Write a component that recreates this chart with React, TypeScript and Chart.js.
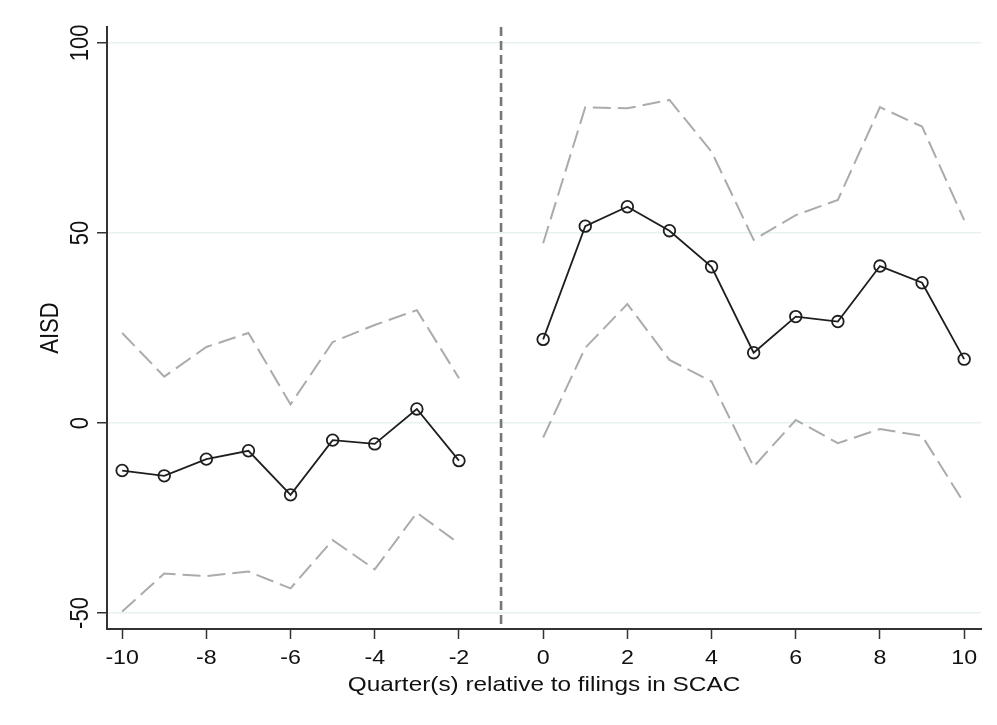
import React, { useEffect, useRef } from "react";
import { Chart, registerables } from "chart.js";

Chart.register(...registerables);

const quarters = [-10, -9, -8, -7, -6, -5, -4, -3, -2, 0, 1, 2, 3, 4, 5, 6, 7, 8, 9, 10];
const estimate = [-12.5, -13.9, -9.5, -7.3, -18.9, -4.5, -5.5, 3.7, -9.9, 22.0, 51.8, 56.9, 50.6, 41.1, 18.5, 28.0, 26.7, 41.3, 36.9, 16.8];
const upperCI = [23.7, 12.2, 20.0, 23.7, 4.9, 21.3, 25.8, 29.7, 11.8, 47.3, 83.1, 82.8, 85.0, 71.4, 48.2, 54.7, 58.7, 83.1, 78.0, 53.4];
const lowerCI = [-49.6, -39.6, -40.3, -39.1, -43.5, -30.8, -38.5, -23.6, -31.7, -3.8, 19.8, 31.3, 16.6, 10.9, -11.5, 0.8, -5.3, -1.6, -3.4, -21.1];
const xTicks = [-10, -8, -6, -4, -2, 0, 2, 4, 6, 8, 10];
const yTicks = [-50, 0, 50, 100];
const eventQuarter = -1;
const xTitle = "Quarter(s) relative to filings in SCAC";
const yTitle = "AISD";

const FONT = "'Liberation Sans', Arial, Helvetica, sans-serif";
const SX = 1.16; // horizontal stretch of the reference text

function toPoints(vals: number[]) {
  const pts: any[] = [];
  quarters.forEach((q, i) => {
    if (q === 0) pts.push({ x: eventQuarter, y: null });
    pts.push({ x: q, y: vals[i] });
  });
  return pts;
}

const overlayPlugin = {
  id: "overlay",
  beforeDatasetsDraw(chart: any) {
    const { ctx, chartArea, scales } = chart;
    const x = scales.x.getPixelForValue(eventQuarter);
    ctx.save();
    ctx.strokeStyle = "#777777";
    ctx.lineWidth = 2.6;
    ctx.setLineDash([9, 5]);
    ctx.beginPath();
    ctx.moveTo(x, chartArea.top);
    ctx.lineTo(x, chartArea.bottom);
    ctx.stroke();
    ctx.restore();
  },
  afterDraw(chart: any) {
    const { ctx, scales, chartArea } = chart;
    const xs = scales.x;
    const ys = scales.y;
    ctx.save();
    ctx.fillStyle = "#111111";
    ctx.textAlign = "center";
    ctx.textBaseline = "alphabetic";

    // x tick labels
    ctx.font = `20px ${FONT}`;
    xTicks.forEach((v) => {
      ctx.save();
      ctx.translate(xs.getPixelForValue(v), 663.5);
      ctx.scale(SX, 1);
      ctx.fillText(String(v), 0, 0);
      ctx.restore();
    });

    // x title
    ctx.font = `21px ${FONT}`;
    ctx.save();
    ctx.translate((chartArea.left + chartArea.right) / 2, 690.5);
    ctx.scale(SX, 1);
    ctx.fillText(xTitle, 0, 0);
    ctx.restore();

    // y tick labels (rotated)
    ctx.font = `22px ${FONT}`;
    yTicks.forEach((v) => {
      ctx.save();
      ctx.translate(88, ys.getPixelForValue(v));
      ctx.scale(SX, 1);
      ctx.rotate(-Math.PI / 2);
      ctx.fillText(String(v), 0, 0);
      ctx.restore();
    });

    // y title
    ctx.save();
    ctx.translate(58, (chartArea.top + chartArea.bottom) / 2);
    ctx.scale(SX, 1);
    ctx.rotate(-Math.PI / 2);
    ctx.fillText(yTitle, 0, 0);
    ctx.restore();

    ctx.restore();
  },
};

export default function App() {
  const canvasRef = useRef<HTMLCanvasElement | null>(null);

  useEffect(() => {
    document.body.style.margin = "0";
    const canvas = canvasRef.current;
    if (!canvas) return;
    const chart = new Chart(canvas, {
      type: "line",
      data: {
        datasets: [
          {
            label: "Upper CI",
            data: toPoints(upperCI),
            borderColor: "#ababab",
            borderWidth: 2,
            borderDash: [18, 7],
            pointRadius: 0,
            spanGaps: false,
            tension: 0,
          },
          {
            label: "Lower CI",
            data: toPoints(lowerCI),
            borderColor: "#ababab",
            borderWidth: 2,
            borderDash: [18, 7],
            pointRadius: 0,
            spanGaps: false,
            tension: 0,
          },
          {
            label: "AISD",
            data: toPoints(estimate),
            borderColor: "#1e1e1e",
            borderWidth: 1.8,
            pointRadius: 5.8,
            pointBorderWidth: 1.8,
            pointBorderColor: "#1e1e1e",
            pointBackgroundColor: "rgba(0,0,0,0)",
            spanGaps: false,
            tension: 0,
          },
        ],
      },
      options: {
        animation: false,
        responsive: false,
        maintainAspectRatio: false,
        layout: { padding: { top: 27, right: 16, left: 0, bottom: 0 } },
        plugins: { legend: { display: false }, tooltip: { enabled: false } },
        scales: {
          x: {
            type: "linear",
            min: -10.36,
            max: 10.4,
            afterBuildTicks: (scale: any) => {
              scale.ticks = xTicks.map((v) => ({ value: v }));
            },
            afterFit: (scale: any) => {
              scale.height = 96;
            },
            grid: {
              display: true,
              drawOnChartArea: false,
              drawTicks: true,
              tickLength: 10,
              tickColor: "#333333",
              tickWidth: 1.5,
            },
            border: { display: true, color: "#333333", width: 2 },
            ticks: { display: false },
            title: { display: false, text: xTitle },
          },
          y: {
            type: "linear",
            min: -54.2,
            max: 104.2,
            afterBuildTicks: (scale: any) => {
              scale.ticks = yTicks.map((v) => ({ value: v }));
            },
            afterFit: (scale: any) => {
              scale.width = 107;
            },
            grid: {
              display: true,
              drawOnChartArea: true,
              color: "#e7f1f2",
              lineWidth: 1.5,
              drawTicks: true,
              tickLength: 10,
              tickColor: "#333333",
              tickWidth: 1.5,
            },
            border: { display: true, color: "#333333", width: 2 },
            ticks: { display: false },
            title: { display: false, text: yTitle },
          },
        },
      },
      plugins: [overlayPlugin],
    });
    return () => chart.destroy();
  }, []);

  return (
    <div style={{ width: 997, height: 725, background: "#ffffff" }}>
      <canvas ref={canvasRef} width={997} height={725} style={{ display: "block" }} />
    </div>
  );
}
